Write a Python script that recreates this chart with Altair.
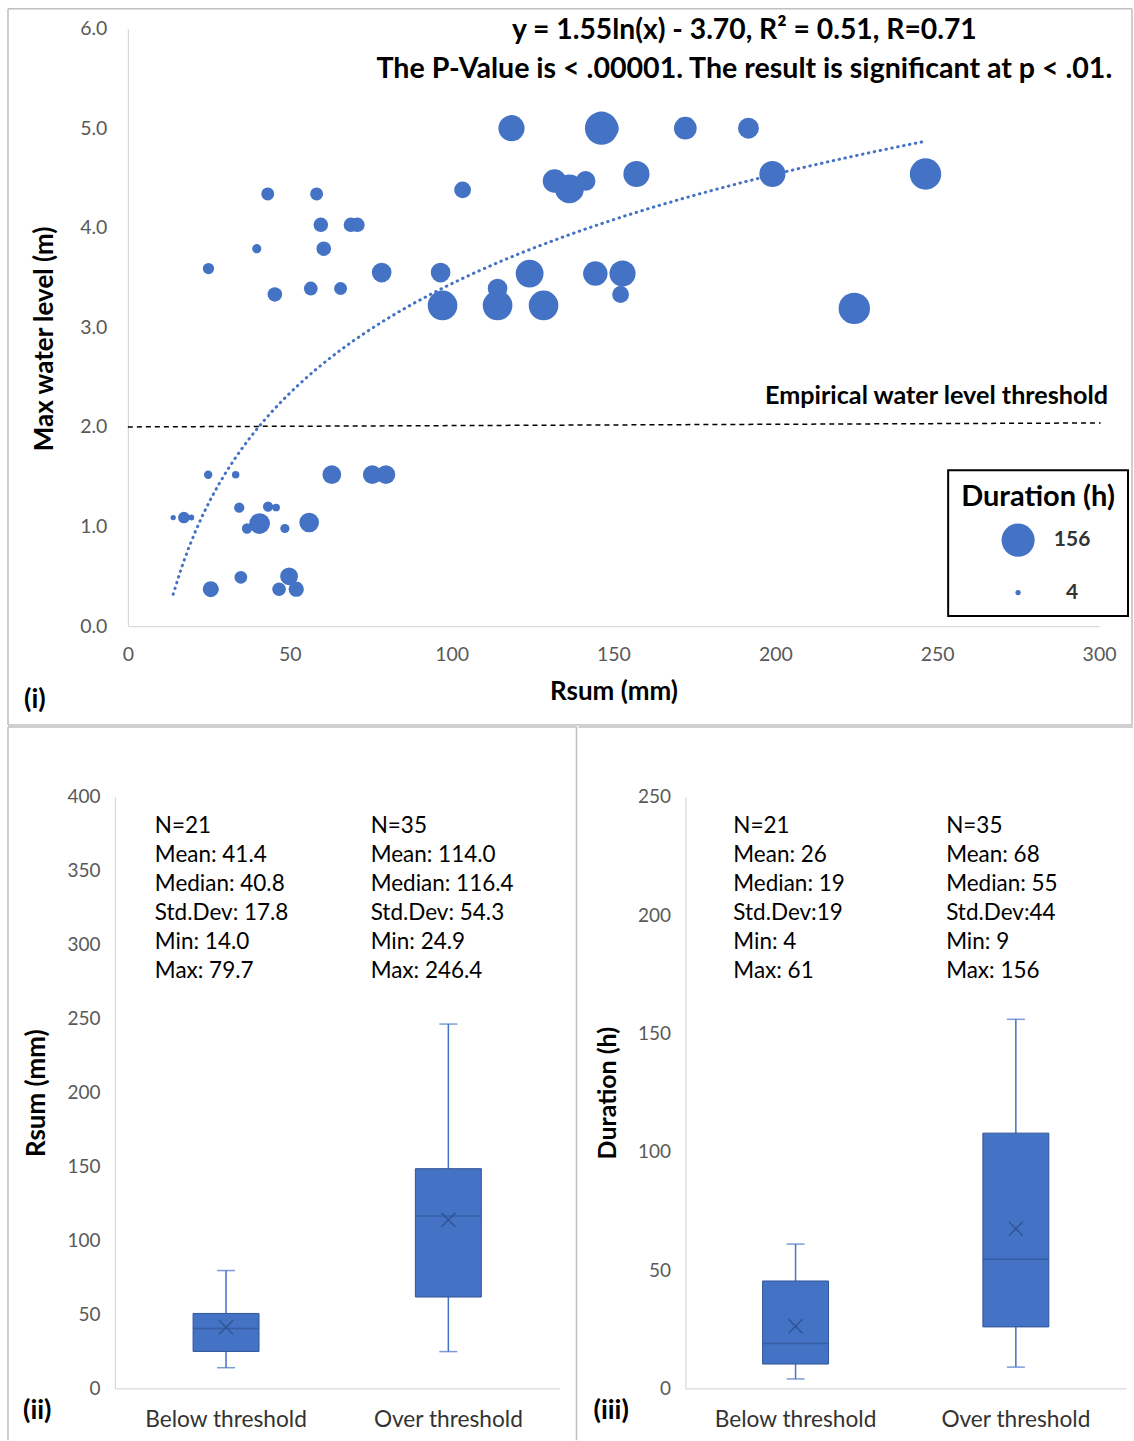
import altair as alt
import pandas as pd

FONT = "Lato"
BLUE = "#4472C4"
DARK = "#2F5597"
GRAY_LINE = "#d9d9d9"
TICK_COLOR = "#595959"
FRAME = "#bfbfbf"

# ---------------- scatter data (panel i) ----------------
below_rsum = [14.0, 17.3, 19.6, 24.8, 33.3, 34.4, 43.3, 45.8, 40.7, 36.8, 48.5,
              56.0, 63.0, 75.5, 79.7, 25.6, 34.9, 49.8, 46.7, 52.0, 27.0]
below_level = [1.09, 1.09, 1.09, 1.52, 1.52, 1.19, 1.20, 1.19, 1.03, 0.98, 0.98,
               1.04, 1.52, 1.52, 1.52, 0.37, 0.49, 0.50, 0.37, 0.37, 0.37]
below_dur = [4, 19, 5, 10, 8, 15, 15, 8, 61, 15, 12,
             55, 50, 50, 50, 36, 23, 45, 26, 33, 6]

over_rsum = [118.5, 146.3, 148.5, 172.2, 191.7, 43.2, 58.3, 103.4, 59.6, 68.9, 70.9,
             39.8, 60.5, 24.9, 45.4, 56.5, 65.7, 78.4, 96.6, 97.2, 114.2, 114.2,
             124.1, 128.4, 131.8, 136.4, 141.4, 144.4, 152.8, 152.2, 157.1, 199.1,
             246.4, 224.4, 77.0]
over_level = [5.0, 5.0, 5.0, 5.0, 5.0, 4.34, 4.34, 4.38, 4.03, 4.03, 4.03,
              3.79, 3.79, 3.59, 3.33, 3.39, 3.39, 3.55, 3.55, 3.22, 3.39, 3.22,
              3.54, 3.22, 4.47, 4.39, 4.47, 3.54, 3.54, 3.33, 4.54, 4.54,
              4.54, 3.19, 3.55]
over_dur = [97, 156, 60, 73, 62, 24, 24, 40, 30, 30, 30,
            12, 30, 18, 30, 27, 24, 55, 55, 125, 55, 125,
            110, 125, 79, 118, 55, 85, 97, 40, 97, 97,
            140, 140, 9]

threshold_level = [2.0, 2.04]
x_ticks = [0, 50, 100, 150, 200, 250, 300]
y_ticks = [0, 1, 2, 3, 4, 5, 6]
legend_values = [156, 4]

eq_text = "y = 1.55ln(x) - 3.70, R\u00b2 = 0.51, R=0.71"
p_text = "The P-Value is < .00001. The result is significant at p < .01."
thr_text = "Empirical water level threshold"

# ---------------- box plot data (panels ii, iii) ----------------
categories = ["Below threshold", "Over threshold"]
rsum_lo = [14.0, 24.9]
rsum_q1 = [25.0, 61.8]
rsum_med = [40.6, 116.6]
rsum_q3 = [50.7, 148.6]
rsum_hi = [79.7, 246.4]
rsum_mean = [41.4, 114.0]

dur_lo = [4, 9]
dur_q1 = [10.3, 26.0]
dur_med = [19.0, 54.6]
dur_q3 = [45.4, 107.9]
dur_hi = [61, 156]
dur_mean = [26.3, 67.5]

rsum_stats_below = ["N=21", "Mean: 41.4", "Median: 40.8", "Std.Dev: 17.8", "Min: 14.0", "Max:  79.7"]
rsum_stats_over = ["N=35", "Mean: 114.0", "Median: 116.4", "Std.Dev: 54.3", "Min: 24.9", "Max:  246.4"]
dur_stats_below = ["N=21", "Mean: 26", "Median: 19", "Std.Dev:19", "Min: 4", "Max:  61"]
dur_stats_over = ["N=35", "Mean: 68", "Median: 55", "Std.Dev:44", "Min: 9", "Max:  156"]

one = pd.DataFrame({"k": [0]})


def frame_rule(x1, x2, y1, y2, width=1.5):
    return alt.Chart(one).mark_rule(color=FRAME, strokeWidth=width).encode(
        x=alt.value(x1), x2=alt.value(x2), y=alt.value(y1), y2=alt.value(y2))


def text_at(txt, x, y, size, weight="normal", align="left", baseline="middle",
            color="black", line_height=None):
    kw = dict(font=FONT, fontSize=size, fontWeight=weight, align=align,
              baseline=baseline, color=color, text=txt)
    if line_height is not None:
        kw["lineHeight"] = line_height
    return alt.Chart(one).mark_text(**kw).encode(x=alt.value(x), y=alt.value(y))


# ---------------- panel (i) ----------------
W1, H1 = 972, 598
sc = pd.DataFrame({
    "rsum": below_rsum + over_rsum,
    "level": below_level + over_level,
    "duration": below_dur + over_dur,
})

xenc = alt.X("rsum:Q", scale=alt.Scale(domain=[0, 300], nice=False),
             axis=alt.Axis(values=x_ticks, format="d", title="Rsum (mm)",
                           titleFontSize=26, titleFontWeight="bold", titleColor="black",
                           titleX=W1 / 2, titleY=65, titleBaseline="middle",
                           labelFontSize=19.5, labelColor=TICK_COLOR, labelPadding=19))
yenc = alt.Y("level:Q", scale=alt.Scale(domain=[0, 6], nice=False),
             axis=alt.Axis(values=y_ticks, format=".1f", title="Max water level (m)",
                           titleFontSize=26, titleFontWeight="bold", titleColor="black",
                           titleX=-83, titleY=310, titleAngle=270, titleBaseline="middle",
                           titleAlign="center",
                           labelFontSize=19.5, labelColor=TICK_COLOR, labelPadding=21))

bubbles = alt.Chart(sc).mark_circle(color=BLUE, opacity=1).encode(
    x=xenc, y=yenc,
    size=alt.Size("duration:Q", scale=alt.Scale(domain=[0, 156], range=[0, 1100]),
                  legend=alt.Legend(title="Duration (h)", values=legend_values,
                                    orient="none", legendX=834, legendY=442,
                                    strokeColor="black", padding=13,
                                    titleFont=FONT, titleFontSize=29, titleFontWeight="bold",
                                    titleColor="black", titlePadding=11,
                                    labelFont=FONT, labelFontSize=21, labelFontWeight="bold",
                                    labelColor="#333333", labelAlign="center",
                                    labelOffset=37, symbolOffset=40, rowPadding=24,
                                    symbolType="circle", symbolFillColor=BLUE,
                                    symbolStrokeWidth=0, symbolOpacity=1)))

trend = alt.Chart(sc).transform_regression(
    "rsum", "level", method="log", extent=[14, 246.4]
).mark_line(color=BLUE, strokeDash=[0.5, 5.5], strokeCap="round", strokeWidth=3).encode(
    x="rsum:Q", y="level:Q")

thr = pd.DataFrame({"x": [0], "x2": [300.5], "y": [threshold_level[0]], "y2": [threshold_level[1]]})
thr_line = alt.Chart(thr).mark_rule(color="black", strokeDash=[5, 4], strokeWidth=1.5).encode(
    x="x:Q", x2="x2:Q", y="y:Q", y2="y2:Q")

panel1 = alt.layer(
    frame_rule(-120, 1005, -20, -20),
    frame_rule(-120, 1005, 697, 697),
    frame_rule(-120, -120, -20, 697),
    frame_rule(1005, 1005, -20, 697),
    thr_line, trend, bubbles,
    text_at(eq_text, 617, 2, 28.3, "bold", "center"),
    text_at(p_text, 617, 40, 28.6, "bold", "center"),
    text_at(thr_text, 981, 368, 25.2, "bold", "right"),
    text_at("(i)", -104, 672, 27, "bold"),
).properties(width=W1, height=H1)

# invisible spacer that shifts panel (i) 13 px to the right of panels (ii)/(iii)
spacer = alt.Chart(one).mark_point(opacity=0, size=1).encode(
    x=alt.value(0), y=alt.value(0)).properties(width=1, height=1)


# ---------------- panels (ii), (iii) ----------------
def box_panel(lo, q1, med, q3, hi, mean, ymax, ytitle, tsize, width, stats_l, stats_r,
              sx_l, sx_r, label, frame_layers):
    df = pd.DataFrame({"cat": categories, "lo": lo, "q1": q1, "med": med,
                       "q3": q3, "hi": hi, "mean": mean})
    H = 592
    x = alt.X("cat:N", sort=categories, scale=alt.Scale(paddingInner=0, paddingOuter=0),
              axis=alt.Axis(title=None, labelAngle=0, labelFontSize=22.7, labelColor="#333333",
                            labelPadding=20, labelFont=FONT))
    ax = alt.Axis(values=list(range(0, ymax + 1, 50)), title=ytitle, titleFontSize=tsize,
                  titleFontWeight="bold", titleColor="black", titleX=-78, titleY=296,
                  titleAngle=270, titleBaseline="middle", titleAlign="center",
                  labelFontSize=19, labelColor=TICK_COLOR, labelPadding=15)
    ysc = alt.Scale(domain=[0, ymax], nice=False)
    base = alt.Chart(df)
    whisk = base.mark_rule(color=BLUE, strokeWidth=1.5).encode(
        x=x, y=alt.Y("lo:Q", scale=ysc, axis=ax), y2="hi:Q")
    cap_lo = base.mark_tick(color=BLUE, size=18, thickness=1.5).encode(
        x=x, y=alt.Y("lo:Q", scale=ysc, axis=ax))
    cap_hi = base.mark_tick(color=BLUE, size=18, thickness=1.5).encode(
        x=x, y=alt.Y("hi:Q", scale=ysc, axis=ax))
    box = base.mark_bar(size=66, color=BLUE, stroke=DARK, strokeWidth=1).encode(
        x=x, y=alt.Y("q1:Q", scale=ysc, axis=ax), y2="q3:Q")
    median = base.mark_tick(color=DARK, size=66, thickness=1.5).encode(
        x=x, y=alt.Y("med:Q", scale=ysc, axis=ax))
    mean_pt = base.mark_point(shape="M-1,-1L1,1M1,-1L-1,1", size=196, filled=False,
                              stroke=DARK, strokeWidth=1.5, opacity=1).encode(
        x=x, y=alt.Y("mean:Q", scale=ysc, axis=ax))
    return alt.layer(
        *frame_layers,
        whisk, cap_lo, cap_hi, box, median, mean_pt,
        text_at(stats_l, sx_l, 18, 22.5, baseline="top", line_height=29),
        text_at(stats_r, sx_r, 18, 22.5, baseline="top", line_height=29),
        text_at(label, -92, 615, 27, "bold"),
    ).properties(width=width, height=H)


panel2 = box_panel(rsum_lo, rsum_q1, rsum_med, rsum_q3, rsum_hi, rsum_mean, 400,
                   "Rsum (mm)", 26, 445, rsum_stats_below, rsum_stats_over, 40, 256, "(ii)",
                   [frame_rule(-107, -107, -70, 644), frame_rule(-107, 462, -70, -70),
                    frame_rule(462, 462, -70, 644)])
panel3 = box_panel(dur_lo, dur_q1, dur_med, dur_q3, dur_hi, dur_mean, 250,
                   "Duration (h)", 25, 441, dur_stats_below, dur_stats_over, 48, 261, "(iii)",
                   [frame_rule(-107, 448, -70, -70)])

chart = alt.vconcat(
    alt.hconcat(spacer, panel1, spacing=12, bounds="flush"),
    alt.hconcat(panel2, panel3, spacing=0),
    spacing=0,
).properties(
    padding={"left": 7, "top": 7, "right": 0, "bottom": 0}
).configure_view(stroke=None).configure_axis(
    grid=False, ticks=False, domainColor=GRAY_LINE, domainWidth=1.2,
    labelFont=FONT, titleFont=FONT, labelFlush=False
).configure_legend(strokeWidth=2)

chart.save("out.html", embed_options={"renderer": "svg", "actions": False})
